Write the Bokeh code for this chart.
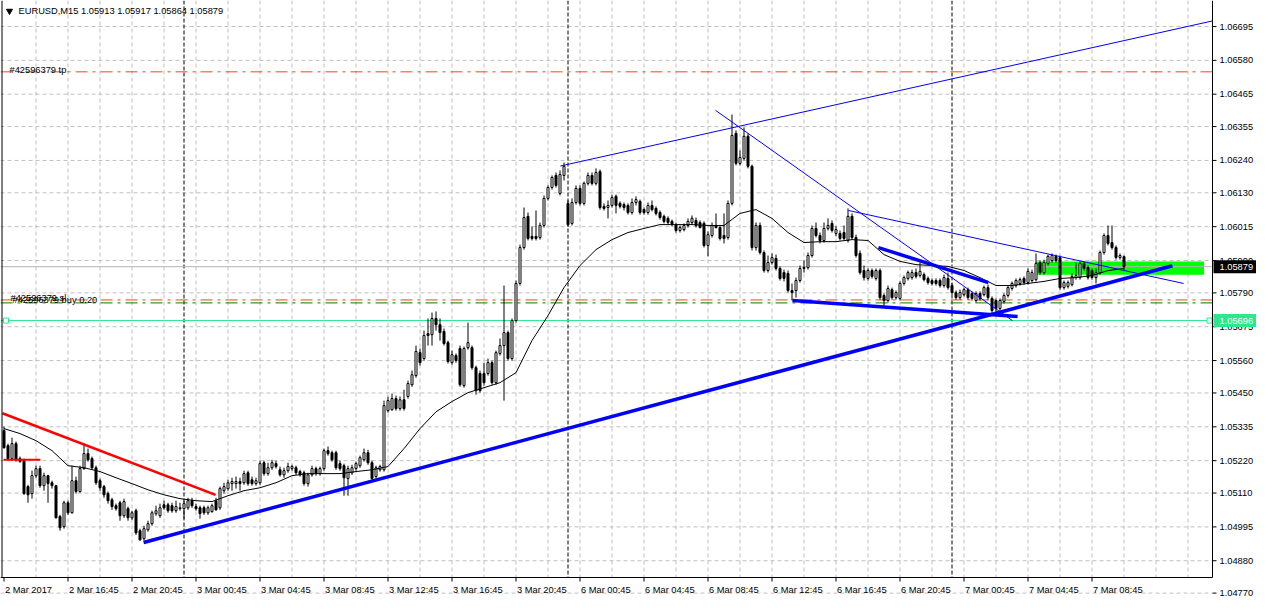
from bokeh.plotting import figure
from bokeh.models import Range1d
from bokeh.core.properties import value
from bokeh.embed import file_html
from bokeh.resources import INLINE

SYMBOL = "EURUSD,M15"

# ---- M15 bars (values in points, 1 point = 0.00001) ----
open_pts = [
    105322, 105271, 105227, 105278, 105227, 105220, 105132, 105108, 105169, 105193,
    105135, 105169, 105145, 105135, 105030, 104996, 105077, 105043, 105152, 105115,
    105193, 105244, 105227, 105196, 105152, 105132, 105108, 105087, 105067, 105077,
    105033, 105057, 105026, 105050, 104982, 104955, 104985, 105006, 105040, 105033,
    105070, 105070, 105067, 105050, 105057, 105057, 105060, 105084, 105064, 105060,
    105060, 105043, 105047, 105084, 105060, 105118, 105125, 105142, 105142, 105149,
    105145, 105179, 105155, 105142, 105145, 105213, 105176, 105196, 105210, 105189,
    105172, 105186, 105193, 105196, 105183, 105179, 105142, 105172, 105193, 105176,
    105193, 105254, 105247, 105247, 105210, 105203, 105159, 105179, 105193, 105203,
    105223, 105247, 105213, 105166, 105189, 105189, 105390, 105393, 105431, 105397,
    105427, 105438, 105478, 105509, 105587, 105567, 105652, 105648, 105703, 105682,
    105659, 105621, 105553, 105577, 105601, 105475, 105604, 105604, 105536, 105516,
    105516, 105516, 105553, 105485, 105584, 105611, 105655, 105567, 105696, 105822,
    105944, 106050, 105982, 105982, 105978, 106019, 106111, 106148, 106189, 106128,
    106189, 106094, 106026, 106097, 106145, 106094, 106162, 106189, 106162, 106202,
    106084, 106080, 106087, 106118, 106094, 106090, 106087, 106063, 106097, 106101,
    106073, 106063, 106087, 106077, 106063, 106050, 106043, 106033, 106022, 106002,
    106005, 106019, 106029, 106036, 106029, 106026, 105951, 105985, 106019, 106012,
    105985, 105978, 106094, 106332, 106230, 106247, 106322, 106220, 105944, 106019,
    105927, 105866, 105893, 105907, 105873, 105859, 105856, 105798, 105798, 105832,
    105876, 105876, 105917, 106009, 105985, 105968, 106009, 106026, 105992, 105992,
    105995, 105968, 106050, 105978, 105924, 105866, 105839, 105866, 105839, 105866,
    105781, 105764, 105801, 105774, 105771, 105822, 105839, 105842, 105859, 105849,
    105852, 105839, 105832, 105832, 105832, 105815, 105839, 105815, 105791, 105774,
    105784, 105801, 105788, 105764, 105788, 105784, 105808, 105771, 105764, 105737,
    105761, 105781, 105805, 105815, 105822, 105839, 105825, 105832, 105835, 105893,
    105859, 105890, 105900, 105914, 105910, 105808, 105812, 105818, 105842, 105842,
    105890, 105876, 105866, 105842, 105859, 105927, 105985, 105961, 105944, 105910,
    105913,
]
high_pts = [
    105336, 105278, 105298, 105285, 105234, 105227, 105138, 105186, 105203, 105203,
    105179, 105172, 105152, 105138, 105036, 105084, 105084, 105203, 105166, 105203,
    105278, 105261, 105234, 105203, 105159, 105138, 105115, 105094, 105074, 105084,
    105091, 105064, 105050, 105057, 104989, 104999, 105016, 105050, 105067, 105074,
    105084, 105077, 105077, 105084, 105077, 105084, 105094, 105094, 105074, 105067,
    105067, 105067, 105074, 105094, 105132, 105145, 105155, 105162, 105166, 105162,
    105186, 105186, 105166, 105162, 105220, 105220, 105213, 105223, 105220, 105200,
    105196, 105213, 105206, 105203, 105189, 105186, 105179, 105203, 105200, 105200,
    105261, 105268, 105254, 105254, 105220, 105210, 105203, 105206, 105217, 105237,
    105261, 105257, 105220, 105203, 105206, 105424, 105438, 105448, 105441, 105438,
    105461, 105492, 105526, 105611, 105601, 105662, 105703, 105723, 105727, 105703,
    105669, 105628, 105594, 105584, 105611, 105608, 105689, 105611, 105543, 105526,
    105553, 105567, 105560, 105594, 105635, 105815, 105662, 105703, 105832, 105954,
    106080, 106063, 106016, 106070, 106029, 106121, 106155, 106189, 106199, 106206,
    106233, 106104, 106111, 106155, 106155, 106168, 106199, 106199, 106213, 106209,
    106094, 106104, 106124, 106124, 106101, 106097, 106094, 106111, 106118, 106107,
    106080, 106097, 106104, 106084, 106070, 106056, 106050, 106039, 106029, 106019,
    106026, 106043, 106053, 106046, 106036, 106033, 105999, 106029, 106060, 106019,
    106060, 106104, 106396, 106342, 106274, 106352, 106332, 106226, 106029, 106029,
    105934, 105917, 105924, 105920, 105880, 105869, 105866, 105822, 105842, 105883,
    105900, 105927, 106019, 106029, 105995, 106029, 106043, 106036, 106016, 106002,
    106019, 106077, 106060, 105988, 105934, 105883, 105873, 105873, 105873, 105873,
    105788, 105815, 105808, 105798, 105829, 105849, 105866, 105869, 105873, 105893,
    105859, 105846, 105839, 105839, 105839, 105852, 105859, 105822, 105798, 105801,
    105808, 105808, 105795, 105795, 105795, 105815, 105818, 105778, 105771, 105771,
    105788, 105815, 105829, 105839, 105842, 105846, 105873, 105869, 105924, 105900,
    105903, 105920, 105924, 105920, 105917, 105832, 105832, 105856, 105893, 105897,
    105897, 105883, 105873, 105873, 105934, 105992, 106019, 106019, 105951, 105924,
    105917,
]
low_pts = [
    105261, 105220, 105220, 105217, 105213, 105104, 105077, 105091, 105162, 105128,
    105118, 105077, 105125, 105023, 104982, 104989, 105036, 105040, 105108, 105111,
    105189, 105217, 105189, 105138, 105118, 105094, 105074, 105053, 105050, 105016,
    105026, 105016, 105019, 104968, 104948, 104948, 104979, 104999, 105033, 105026,
    105053, 105043, 105043, 105043, 105050, 105023, 105053, 105060, 105050, 105023,
    105036, 105036, 105043, 105050, 105053, 105108, 105118, 105118, 105125, 105118,
    105138, 105135, 105135, 105135, 105138, 105169, 105169, 105189, 105193, 105166,
    105162, 105179, 105186, 105172, 105166, 105135, 105132, 105166, 105169, 105169,
    105186, 105237, 105217, 105189, 105186, 105101, 105101, 105172, 105186, 105196,
    105217, 105206, 105152, 105159, 105183, 105183, 105383, 105390, 105390, 105390,
    105390, 105431, 105471, 105502, 105543, 105560, 105611, 105611, 105662, 105628,
    105611, 105550, 105546, 105553, 105471, 105468, 105597, 105529, 105444, 105451,
    105475, 105509, 105478, 105478, 105577, 105424, 105560, 105560, 105689, 105815,
    105937, 105968, 105968, 105968, 105971, 106012, 106104, 106141, 106148, 106121,
    106172, 106016, 106019, 106090, 106087, 106087, 106155, 106155, 106155, 106073,
    106070, 106043, 106080, 106060, 106077, 106070, 106056, 106056, 106087, 106056,
    106056, 106056, 106067, 106053, 106039, 106026, 106022, 106016, 105995, 105995,
    105999, 106012, 106022, 106012, 106009, 105944, 105914, 105978, 106009, 105968,
    105958, 105971, 106087, 106223, 106223, 106240, 106213, 105934, 105934, 105920,
    105859, 105859, 105886, 105866, 105832, 105829, 105791, 105764, 105774, 105825,
    105859, 105869, 105910, 105978, 105958, 105961, 106002, 105995, 105982, 105968,
    105968, 105961, 105971, 105910, 105852, 105832, 105832, 105839, 105832, 105767,
    105740, 105757, 105767, 105767, 105764, 105815, 105832, 105835, 105839, 105842,
    105829, 105818, 105815, 105815, 105808, 105808, 105801, 105784, 105767, 105767,
    105778, 105767, 105764, 105757, 105764, 105778, 105764, 105720, 105723, 105730,
    105754, 105774, 105798, 105808, 105815, 105818, 105818, 105825, 105829, 105852,
    105852, 105883, 105893, 105893, 105801, 105801, 105805, 105812, 105835, 105835,
    105866, 105835, 105835, 105822, 105852, 105920, 105951, 105937, 105903, 105903,
    105864,
]
close_pts = [
    105264, 105227, 105278, 105223, 105217, 105108, 105104, 105169, 105193, 105135,
    105169, 105142, 105135, 105026, 104992, 105077, 105043, 105152, 105115, 105193,
    105244, 105223, 105196, 105145, 105128, 105104, 105084, 105064, 105057, 105033,
    105081, 105026, 105043, 104975, 104951, 104989, 105006, 105043, 105050, 105060,
    105060, 105050, 105050, 105064, 105060, 105074, 105084, 105067, 105057, 105040,
    105043, 105060, 105067, 105053, 105125, 105132, 105145, 105149, 105149, 105142,
    105176, 105142, 105142, 105152, 105210, 105176, 105196, 105213, 105200, 105172,
    105186, 105200, 105200, 105179, 105172, 105142, 105172, 105193, 105176, 105193,
    105254, 105244, 105223, 105196, 105193, 105162, 105193, 105196, 105210, 105230,
    105247, 105213, 105159, 105196, 105200, 105407, 105424, 105431, 105397, 105427,
    105397, 105482, 105512, 105591, 105553, 105645, 105645, 105703, 105682, 105655,
    105618, 105557, 105580, 105560, 105478, 105601, 105621, 105536, 105458, 105458,
    105485, 105553, 105485, 105587, 105611, 105655, 105567, 105696, 105822, 105944,
    106046, 105975, 105975, 105975, 106019, 106111, 106148, 106182, 106155, 106192,
    106220, 106022, 106097, 106145, 106094, 106162, 106189, 106162, 106199, 106080,
    106077, 106087, 106114, 106087, 106084, 106080, 106063, 106097, 106107, 106063,
    106063, 106087, 106073, 106060, 106046, 106033, 106029, 106022, 106002, 106012,
    106019, 106033, 106043, 106019, 106012, 105951, 105988, 106019, 106012, 105975,
    105975, 106094, 106325, 106230, 106250, 106322, 106220, 105944, 106019, 105927,
    105866, 105893, 105910, 105873, 105839, 105839, 105798, 105791, 105832, 105873,
    105873, 105917, 106009, 105985, 105968, 106009, 106019, 106002, 106005, 105975,
    105975, 106050, 105978, 105917, 105859, 105842, 105866, 105846, 105866, 105774,
    105764, 105805, 105774, 105791, 105822, 105842, 105859, 105859, 105846, 105863,
    105835, 105825, 105822, 105822, 105815, 105842, 105808, 105791, 105774, 105791,
    105801, 105774, 105771, 105788, 105771, 105808, 105774, 105730, 105737, 105764,
    105781, 105808, 105822, 105832, 105835, 105825, 105863, 105859, 105890, 105859,
    105893, 105914, 105917, 105900, 105808, 105825, 105825, 105846, 105849, 105890,
    105873, 105842, 105842, 105859, 105927, 105985, 105958, 105944, 105910, 105917,
    105879,
]

# moving average (black line), read every 4th bar
ma_bars = list(range(0, 281, 4))
ma_pts = [
    105329, 105312, 105288, 105254, 105203, 105196, 105183, 105162, 105142, 105121,
    105104, 105091, 105084, 105081, 105101, 105118, 105128, 105145, 105169, 105176,
    105176, 105176, 105183, 105189, 105200, 105261, 105329, 105386, 105421, 105451,
    105468, 105485, 105519, 105628, 105713, 105808, 105883, 105937, 105971, 105995,
    106009, 106022, 106022, 106022, 106019, 106019, 106060, 106073, 106043, 105995,
    105961, 105964, 105964, 105971, 105968, 105920, 105897, 105886, 105883, 105880,
    105866, 105842, 105815, 105815, 105822, 105829, 105839, 105842, 105849, 105866,
    105873,
]

# time axis
time_tick_bars = [0, 16, 32, 48, 64, 80, 96, 112, 128, 144, 160, 176, 192, 208, 224, 240, 256, 272]
time_tick_labels = ["2 Mar 2017", "2 Mar 16:45", "2 Mar 20:45", "3 Mar 00:45", "3 Mar 04:45",
                    "3 Mar 08:45", "3 Mar 12:45", "3 Mar 16:45", "3 Mar 20:45", "6 Mar 00:45",
                    "6 Mar 04:45", "6 Mar 08:45", "6 Mar 12:45", "6 Mar 16:45", "6 Mar 20:45",
                    "7 Mar 00:45", "7 Mar 04:45", "7 Mar 08:45"]
day_separator_bars = [45, 141, 237]

# price axis
price_labels = ["1.06695", "1.06580", "1.06465", "1.06355", "1.06240", "1.06130", "1.06015",
                "1.05900", "1.05790", "1.05675", "1.05560", "1.05450", "1.05335", "1.05220",
                "1.05110", "1.04995", "1.04880", "1.04770"]

# drawn objects: (bar, points) endpoints
red_trend_bars = [-0.4, 52.9]
red_trend_pts = [105381, 105104]
red_level_bars = [-0.1, 9.1]
red_level_pts = [105223, 105223]
blue_support_bars = [34.9, 292.1]
blue_support_pts = [104942, 105882]
blue_wedge_top_bars = [218.6, 246.1]
blue_wedge_top_pts = [105944, 105825]
blue_wedge_low_bars = [197.1, 253.4]
blue_wedge_low_pts = [105764, 105710]
blue_channel_bars = [139.1, 306.1]
blue_channel_pts = [106221, 106726]
blue_fall_bars = [177.9, 252.1]
blue_fall_pts = [106410, 105696]
blue_flat_bars = [211.1, 294.9]
blue_flat_pts = [106070, 105822]
zone_bars = [257.9, 300.0]
zone_pts = [105852, 105897]

order_ticket = "#42596379"
tp_pts = 106541
sl_pts = 105766
buy_pts = 105756
buy_lots = "0.20"
hline_pts = 105696

# ---------------------------------------------------------------
P = 1e5
o = [v / P for v in open_pts]
h = [v / P for v in high_pts]
l = [v / P for v in low_pts]
c = [v / P for v in close_pts]
n = len(c)
idx = list(range(n))

W, H = 1256, 600
PX_BAR = 4.0
X0 = -0.875
PX_PRICE = 29435.0
Y_TOP = 1.06695 + 26 / PX_PRICE
CH_W, CH_H = 1212, 577


def dx(px):
    return X0 + px / PX_BAR


def dy(py):
    return Y_TOP - py / PX_PRICE


FONT = value("Liberation Sans")
FS = value("9.3px")

p = figure(width=W, height=H, output_backend="svg", toolbar_location=None,
           x_range=Range1d(X0, X0 + W / PX_BAR), y_range=Range1d(Y_TOP - H / PX_PRICE, Y_TOP),
           x_axis_location=None, y_axis_location=None, min_border=0)
p.outline_line_color = None
p.background_fill_color = "white"
p.border_fill_color = "white"
p.xgrid.visible = False
p.ygrid.visible = False

GRID = "#C0C0C0"
# horizontal grid at price labels
gy = [float(s) for s in price_labels]
p.segment(x0=[dx(0)] * len(gy), x1=[dx(CH_W)] * len(gy), y0=gy, y1=gy,
          line_color=GRID, line_width=1, line_dash="4 3")
# vertical grid every 8 bars
gx = [b for b in range(8, 400, 8) if b < dx(CH_W)]
p.segment(x0=gx, x1=gx, y0=[dy(0)] * len(gx), y1=[dy(CH_H)] * len(gx),
          line_color=GRID, line_width=1, line_dash="4 3")
# day separators
p.segment(x0=day_separator_bars, x1=day_separator_bars,
          y0=[dy(0)] * 3, y1=[dy(CH_H)] * 3, line_color="black", line_width=1, line_dash="4 2")

# support/resistance zone (background)
p.quad(left=[zone_bars[0]], right=[zone_bars[1]], bottom=[zone_pts[0] / P], top=[zone_pts[1] / P],
       fill_color="#00FF00", line_color=None)

# order lines
p.line([dx(0), dx(CH_W)], [tp_pts / P] * 2, line_color="#FF4500", line_width=1, line_dash="12 5 3 5")
p.line([dx(0), dx(CH_W)], [sl_pts / P] * 2, line_color="#FF4500", line_width=1, line_dash="12 5 3 5")
p.line([dx(0), dx(CH_W)], [buy_pts / P] * 2, line_color="#008000", line_width=1, line_dash="12 5 3 5")
# horizontal line object
HL = "#2BE88A"
p.line([dx(0), dx(CH_W)], [hline_pts / P] * 2, line_color=HL, line_width=1)
# bid line
p.line([dx(0), dx(CH_W)], [c[-1]] * 2, line_color="#B4B4B4", line_width=1)

# candles
wx = idx
p.segment(x0=wx, x1=wx, y0=l, y1=h, line_color="black", line_width=1)
up = [i for i in idx if c[i] >= o[i]]
dn = [i for i in idx if c[i] < o[i]]
p.vbar(x=up, width=0.5, bottom=[o[i] for i in up], top=[c[i] for i in up],
       fill_color="white", line_color="black", line_width=1)
p.vbar(x=dn, width=0.5, bottom=[c[i] for i in dn], top=[o[i] for i in dn],
       fill_color="black", line_color="black", line_width=1)

# moving average
p.line(ma_bars, [v / P for v in ma_pts], line_color="black", line_width=1)

# trend lines
p.line(red_trend_bars, [v / P for v in red_trend_pts], line_color="#FF0000", line_width=2.5)
p.line(red_level_bars, [v / P for v in red_level_pts], line_color="#FF0000", line_width=2)
for bx, by in [(blue_support_bars, blue_support_pts), (blue_wedge_top_bars, blue_wedge_top_pts),
               (blue_wedge_low_bars, blue_wedge_low_pts)]:
    p.line(bx, [v / P for v in by], line_color="#0000FF", line_width=3.5)
# ray clipped at chart edge
x_edge = dx(CH_W)
sl_ = (blue_channel_pts[1] - blue_channel_pts[0]) / (blue_channel_bars[1] - blue_channel_bars[0])
ch_end = blue_channel_pts[0] + sl_ * (x_edge - blue_channel_bars[0])
p.line([blue_channel_bars[0], x_edge], [blue_channel_pts[0] / P, ch_end / P], line_color="#0000FF", line_width=1)
for bx, by in [(blue_fall_bars, blue_fall_pts), (blue_flat_bars, blue_flat_pts)]:
    p.line(bx, [v / P for v in by], line_color="#0000FF", line_width=1)

# selection handles of the horizontal line
p.scatter([dx(5.5), dx(CH_W - 3)], [hline_pts / P] * 2, marker="square", size=5,
          fill_color="white", line_color=HL, line_width=1)

# order labels
p.text([dx(9)], [tp_pts / P + 2 / PX_PRICE], text=[f"{order_ticket} tp"], text_font=FONT,
       text_font_size=FS, text_color="black", text_align="left", text_baseline="alphabetic")
p.text([dx(10)], [sl_pts / P + 2 / PX_PRICE], text=[f"{order_ticket} sl"], text_font=FONT,
       text_font_size=FS, text_color="black", text_align="left", text_baseline="alphabetic")
p.text([dx(12)], [buy_pts / P + 3 / PX_PRICE], text=[f"{order_ticket} buy {buy_lots}"], text_font=FONT,
       text_font_size=FS, text_color="black", text_align="left", text_baseline="alphabetic")

# chart frame
p.line([dx(1.5), dx(1.5)], [dy(0), dy(CH_H)], line_color="black", line_width=1)
p.line([dx(0), dx(CH_W)], [dy(CH_H), dy(CH_H)], line_color="black", line_width=1)
p.line([dx(CH_W), dx(CH_W)], [dy(0), dy(CH_H)], line_color="black", line_width=1)

# price axis
p.segment(x0=[dx(CH_W)] * len(gy), x1=[dx(CH_W + 4)] * len(gy), y0=gy, y1=gy, line_color="black")
p.text([dx(CH_W + 7)] * len(gy), gy, text=price_labels, text_font=FONT, text_font_size=FS,
       text_color="black", text_align="left", text_baseline="middle")
# bid box
p.quad(left=[dx(CH_W + 1)], right=[dx(W)], bottom=[c[-1] - 6.5 / PX_PRICE], top=[c[-1] + 6.5 / PX_PRICE],
       fill_color="black", line_color=None)
p.text([dx(CH_W + 7)], [c[-1]], text=[f"{c[-1]:.5f}"], text_font=FONT, text_font_size=FS,
       text_color="white", text_align="left", text_baseline="middle")
# hline box
p.quad(left=[dx(CH_W + 1)], right=[dx(W)], bottom=[hline_pts / P - 6.5 / PX_PRICE],
       top=[hline_pts / P + 6.5 / PX_PRICE], fill_color=HL, line_color=None)
p.text([dx(CH_W + 7)], [hline_pts / P], text=[f"{hline_pts / P:.5f}"], text_font=FONT, text_font_size=FS,
       text_color="white", text_align="left", text_baseline="middle")

# time axis
p.segment(x0=time_tick_bars, x1=time_tick_bars, y0=[dy(CH_H)] * len(time_tick_bars),
          y1=[dy(CH_H + 4)] * len(time_tick_bars), line_color="black")
p.text([b + 0.25 for b in time_tick_bars], [dy(CH_H + 12)] * len(time_tick_bars), text=time_tick_labels,
       text_font=FONT, text_font_size=FS, text_color="black", text_align="left", text_baseline="middle")

# header
p.scatter([dx(9)], [dy(10.5)], marker="inverted_triangle", size=6, fill_color="black", line_color="black")
header = f"{SYMBOL}  {o[-1]:.5f} {h[-1]:.5f} {l[-1]:.5f} {c[-1]:.5f}"
p.text([dx(18)], [dy(10.5)], text=[header], text_font=FONT, text_font_size=FS,
       text_color="black", text_align="left", text_baseline="middle")

open("out.html", "w").write(file_html(p, INLINE))
